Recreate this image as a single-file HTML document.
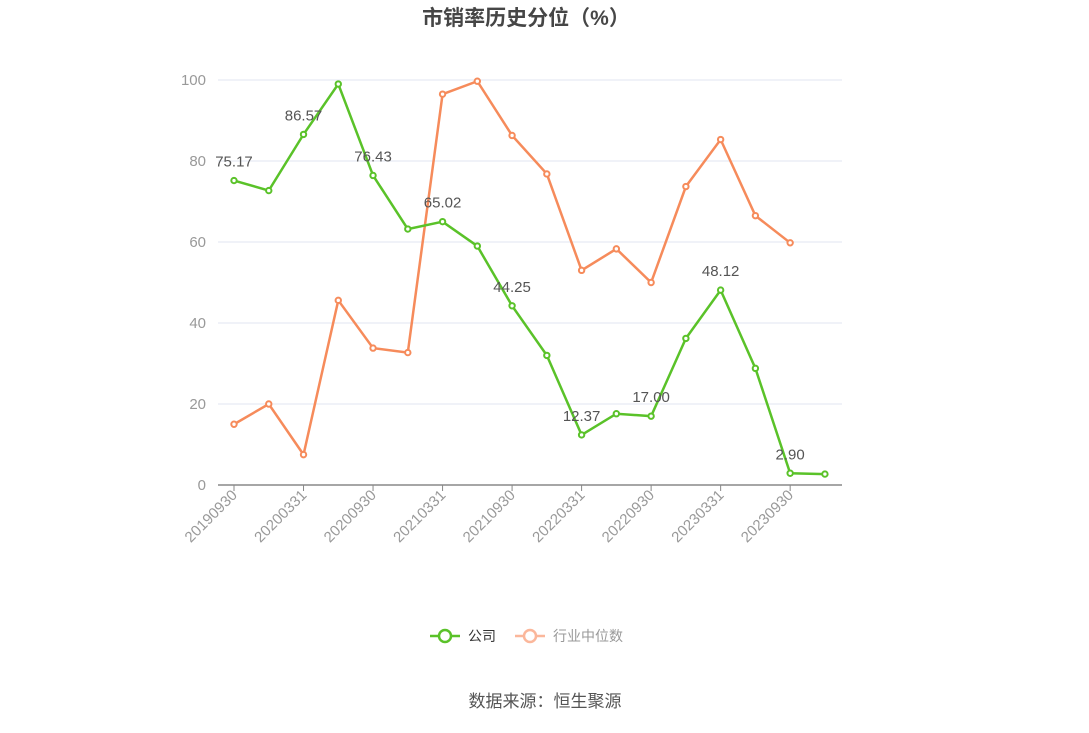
<!DOCTYPE html>
<html><head><meta charset="utf-8"><style>
body{margin:0;background:#fff;}
svg text{font-family:"Liberation Sans","Noto Sans CJK SC",sans-serif;}
</style></head><body>
<svg id="s" width="1089" height="728" xmlns="http://www.w3.org/2000/svg">
<text x="526" y="25" text-anchor="middle" font-size="21" font-weight="bold" fill="#464646">市销率历史分位（%）</text>
<g id="g"></g>
<g transform="translate(430,636)">
<line x1="0" y1="0" x2="30" y2="0" stroke="#5ac229" stroke-width="2.5"/>
<circle cx="15" cy="0" r="6" fill="#fff" stroke="#5ac229" stroke-width="2.5"/>
<text x="38" y="5" font-size="14" fill="#333">公司</text>
<line x1="85" y1="0" x2="115" y2="0" stroke="#fbb79b" stroke-width="2.5"/>
<circle cx="100" cy="0" r="6" fill="#fff" stroke="#fbb79b" stroke-width="2.5"/>
<text x="123" y="5" font-size="14" fill="#999">行业中位数</text>
</g>
<text x="545" y="707" text-anchor="middle" font-size="17" fill="#555">数据来源：恒生聚源</text>
</svg>
<script>
var g=document.getElementById('g'),h='';
function Y(v){return 485-v*4.05;}
for(var v=0;v<=100;v+=20){var y=Y(v);
 if(v>0)h+='<line x1="218" y1="'+y+'" x2="842" y2="'+y+'" stroke="#e0e6f1" stroke-width="1"/>';
 h+='<text x="206" y="'+(y+5)+'" text-anchor="end" font-size="15" fill="#999">'+v+'</text>';}
h+='<line x1="218" y1="485" x2="842" y2="485" stroke="#888" stroke-width="1.5"/>';
var X=function(i){return 234+i*34.76;};
var labs=['20190930','20200331','20200930','20210331','20210930','20220331','20220930','20230331','20230930'];
for(var i=0;i<9;i++){var x=X(2*i);
 h+='<line x1="'+x+'" y1="485" x2="'+x+'" y2="491" stroke="#888"/>';
 h+='<text transform="translate('+(x+4)+',496) rotate(-45)" text-anchor="end" font-size="15" fill="#999">'+labs[i]+'</text>';}
var c=[75.17,72.7,86.57,99,76.43,63.2,65.02,59,44.25,32,12.37,17.6,17.00,36.2,48.12,28.8,2.90,2.7];
var d=[15,20,7.5,45.6,33.8,32.7,96.5,99.7,86.3,76.8,53,58.3,50,73.7,85.3,66.5,59.8];
function line(a,col){var p=a.map(function(v,i){return X(i)+','+Y(v)}).join(' ');
 var s='<polyline points="'+p+'" fill="none" stroke="'+col+'" stroke-width="2.5"/>';
 a.forEach(function(v,i){s+='<circle cx="'+X(i)+'" cy="'+Y(v)+'" r="2.7" fill="#fff" stroke="'+col+'" stroke-width="2"/>';});return s;}
h+=line(d,'#f68b5b');h+=line(c,'#5ac229');
[[0,'75.17'],[2,'86.57'],[4,'76.43'],[6,'65.02'],[8,'44.25'],[10,'12.37'],[12,'17.00'],[14,'48.12'],[16,'2.90']].forEach(function(q){
 h+='<text x="'+X(q[0])+'" y="'+(Y(c[q[0]])-14)+'" text-anchor="middle" font-size="15" fill="#555">'+q[1]+'</text>';});
g.innerHTML=h;
</script>
</body></html>
